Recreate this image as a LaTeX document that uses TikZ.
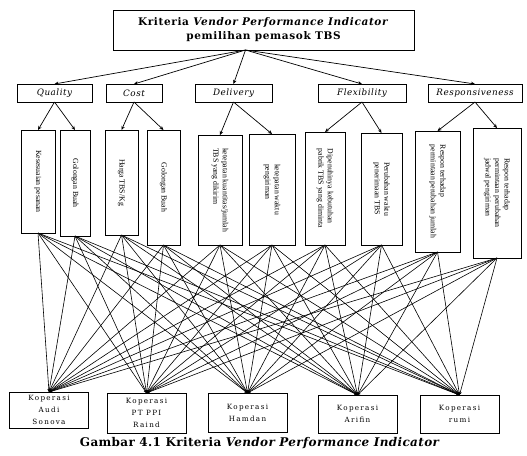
\documentclass[tikz,border=0pt]{standalone}
\usepackage{fontspec}
\setmainfont{Liberation Serif}
\newfontfamily\widefont{DejaVu Serif}
\usepackage{tikz}
\usetikzlibrary{arrows.meta}

\begin{document}
\begin{tikzpicture}[
    x=1pt, y=-1pt,
    every node/.style={align=center, inner sep=0pt, outer sep=0pt},
    box/.style={draw, line width=0.8pt},
    crit/.style={box, minimum height=18pt, font=\widefont\fontsize{8.8}{10}\selectfont\itshape\addfontfeature{LetterSpace=6}},
    sub/.style={box, font=\fontsize{7.8}{9.5}\selectfont},
    alt/.style={box, minimum width=79pt, font=\widefont\fontsize{7.2}{12}\selectfont\addfontfeature{LetterSpace=18}},
    arr/.style={-{Stealth[length=4pt, width=3.5pt]}, line width=0.7pt},
    link/.style={-{Stealth[length=3pt, width=3pt]}, line width=0.6pt}
]
\useasboundingbox (0,0) rectangle (527,455);

% goal
\node[box, minimum width=301pt, minimum height=40pt,
      font=\widefont\bfseries\fontsize{10.5}{14}\selectfont\addfontfeature{LetterSpace=6}] (goal) at (263.5,30)
      {Kriteria \textit{Vendor Performance Indicator}\\pemilihan pemasok TBS};

% criteria
\node[crit, minimum width=75pt] (quality) at (54.5,93) {Quality};
\node[crit, minimum width=56pt] (cost) at (134,93) {Cost};
\node[crit, minimum width=77pt] (delivery) at (233.5,93) {Delivery};
\node[crit, minimum width=88pt] (flex) at (362,93) {Flexibility};
\node[crit, minimum width=94pt] (resp) at (475,93) {Responsiveness};

% sub criteria
\node[sub, minimum width=34pt, minimum height=103pt] (s1) at (38,181.5)
     {\rotatebox{-90}{\begin{tabular}{@{}l@{}}Kesesuaian pesanan\end{tabular}}};
\node[sub, minimum width=30pt, minimum height=106pt] (s2) at (75,183)
     {\rotatebox{-90}{\begin{tabular}{@{}l@{}}Golongan Buah\end{tabular}}};
\node[sub, minimum width=33pt, minimum height=105pt] (s3) at (121.5,182.5)
     {\rotatebox{-90}{\begin{tabular}{@{}l@{}}Harga TBS/Kg\end{tabular}}};
\node[sub, minimum width=33pt, minimum height=115pt] (s4) at (163.5,187.5)
     {\rotatebox{-90}{\begin{tabular}{@{}l@{}}Golongan Buah\end{tabular}}};
\node[sub, minimum width=44pt, minimum height=110pt] (s5) at (220,190)
     {\rotatebox{-90}{\begin{tabular}{@{}l@{}}ketepatan kuantitas/jumlah\\TBS yang dikirim\end{tabular}}};
\node[sub, minimum width=46pt, minimum height=111pt] (s6) at (272,189.5)
     {\rotatebox{-90}{\begin{tabular}{@{}l@{}}ketepatan waktu\\pengiriman\end{tabular}}};
\node[sub, minimum width=40pt, minimum height=113pt] (s7) at (325,188.5)
     {\rotatebox{-90}{\begin{tabular}{@{}l@{}}Dipenuhinya kebutuhan\\pabrik TBS yang diminta\end{tabular}}};
\node[sub, minimum width=41pt, minimum height=112pt] (s8) at (381.5,189)
     {\rotatebox{-90}{\begin{tabular}{@{}l@{}}Perubahan waktu\\penerimaan TBS\end{tabular}}};
\node[sub, minimum width=45pt, minimum height=121pt] (s9) at (437.5,191.5)
     {\rotatebox{-90}{\begin{tabular}{@{}l@{}}Respon terhadap\\permintaan perubahan jumlah\end{tabular}}};
\node[sub, minimum width=48pt, minimum height=130pt] (s10) at (497,193)
     {\rotatebox{-90}{\begin{tabular}{@{}l@{}}Respon terhadap\\permintaan perubahan\\jadwal pengiriman\end{tabular}}};

% alternatives
\node[alt, minimum height=36pt] (a1) at (49,410) {Koperasi\\Audi\\Sonova};
\node[alt, minimum height=40pt] (a2) at (146.5,413) {Koperasi\\PT PPI\\Raind};
\node[alt, minimum height=39pt] (a3) at (247.5,412.5) {Koperasi\\Hamdan};
\node[alt, minimum height=38pt] (a4) at (357.5,414) {Koperasi\\Arifin};
\node[alt, minimum height=38pt] (a5) at (459.5,414) {Koperasi\\rumi};

% caption
\node[font=\widefont\bfseries\fontsize{12}{14}\selectfont\addfontfeature{LetterSpace=3}] (cap) at (260,443)
     {Gambar 4.1 Kriteria \textit{Vendor Performance Indicator}};

% goal -> criteria
\foreach \c in {quality, cost, delivery, flex, resp}
  \draw[arr] ([xshift=-18pt]goal.south) -- (\c.north);

% criteria -> sub criteria
\draw[arr] (quality.south) -- (s1.north);
\draw[arr] (quality.south) -- (s2.north);
\draw[arr] (cost.south) -- (s3.north);
\draw[arr] (cost.south) -- (s4.north);
\draw[arr] (delivery.south) -- (s5.north);
\draw[arr] (delivery.south) -- (s6.north);
\draw[arr] (flex.south) -- (s7.north);
\draw[arr] (flex.south) -- (s8.north);
\draw[arr] (resp.south) -- (s9.north);
\draw[arr] (resp.south) -- (s10.north);

% sub criteria -> alternatives
\foreach \s in {1,...,10}
  \foreach \a in {1,...,5}
    \draw[link] (s\s.south) -- (a\a.north);
\end{tikzpicture}
\end{document}
